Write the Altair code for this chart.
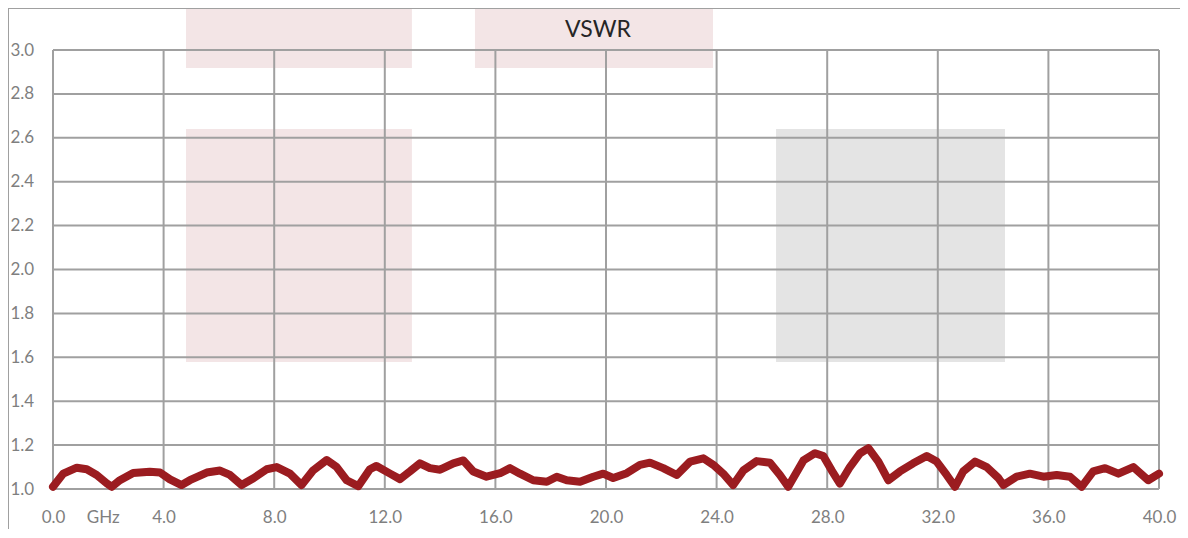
import altair as alt
import pandas as pd

# --- data ---
freq_ghz = [0.0, 0.37, 0.86, 1.22, 1.58, 1.94, 2.12, 2.42, 2.9, 3.5, 3.87, 4.23, 4.65, 4.95,
            5.56, 6.04, 6.4, 6.82, 7.25, 7.73, 8.09, 8.57, 8.99, 9.41, 9.9, 10.26, 10.62,
            11.04, 11.46, 11.7, 12.19, 12.55, 12.91, 13.27, 13.63, 14.0, 14.48, 14.84, 15.2,
            15.68, 16.17, 16.53, 16.89, 17.37, 17.86, 18.22, 18.58, 19.06, 19.54, 19.9,
            20.26, 20.75, 21.23, 21.59, 22.07, 22.56, 23.04, 23.52, 23.88, 24.24, 24.6,
            24.97, 25.45, 25.93, 26.29, 26.59, 27.14, 27.56, 27.86, 28.16, 28.46, 28.82,
            29.19, 29.49, 29.85, 30.21, 30.63, 31.11, 31.6, 31.96, 32.32, 32.62, 32.92,
            33.35, 33.77, 34.19, 34.37, 34.85, 35.33, 35.82, 36.3, 36.78, 37.2, 37.62,
            38.05, 38.53, 39.07, 39.61, 40.0]
vswr = [1.01, 1.07, 1.097, 1.09, 1.064, 1.026, 1.01, 1.04, 1.073, 1.079, 1.075, 1.044, 1.018,
        1.04, 1.075, 1.084, 1.064, 1.018, 1.049, 1.09, 1.10, 1.07, 1.018, 1.085, 1.132, 1.10,
        1.04, 1.013, 1.09, 1.105, 1.07, 1.045, 1.08, 1.117, 1.095, 1.088, 1.117, 1.13, 1.08,
        1.056, 1.072, 1.095, 1.07, 1.04, 1.033, 1.056, 1.04, 1.033, 1.056, 1.07, 1.05,
        1.072, 1.11, 1.12, 1.095, 1.064, 1.125, 1.14, 1.11, 1.07, 1.018, 1.085, 1.127,
        1.12, 1.064, 1.01, 1.13, 1.163, 1.15, 1.085, 1.025, 1.10, 1.163, 1.186, 1.125,
        1.04, 1.08, 1.117, 1.15, 1.125, 1.064, 1.01, 1.08, 1.125, 1.10, 1.05, 1.018,
        1.056, 1.07, 1.056, 1.064, 1.056, 1.01, 1.08, 1.095, 1.07, 1.10, 1.04, 1.07]

x_grid = [0, 4, 8, 12, 16, 20, 24, 28, 32, 36, 40]
y_grid = [1.0, 1.2, 1.4, 1.6, 1.8, 2.0, 2.2, 2.4, 2.6, 2.8, 3.0]
x_label_values = [0, 1.8, 4, 8, 12, 16, 20, 24, 28, 32, 36, 40]
unit_label = "GHz"
chart_title = ["VSWR"]

# decorative background boxes (data units)
box_x0 = [4.81, 26.15, 4.81, 15.26]
box_x1 = [12.98, 34.43, 12.98, 23.87]
box_y0 = [1.579, 1.579, 2.918, 2.918]
box_y1 = [2.64, 2.64, 3.25, 3.25]
box_color = ["#f3e5e6", "#e4e4e4", "#f3e5e6", "#f3e5e6"]

W, H = 1106, 439
GRID = "#a0a0a0"
LABEL = "#7f7f7f"

df = pd.DataFrame({"f": freq_ghz, "v": vswr})
boxes = pd.DataFrame({"x0": box_x0, "x1": box_x1, "y0": box_y0, "y1": box_y1, "c": box_color})
gx = pd.DataFrame({"gx": x_grid})
gy = pd.DataFrame({"gy": y_grid})
tdf = pd.DataFrame({"t": chart_title})

xs = alt.Scale(domain=[0, 40], nice=False, zero=False)
ys = alt.Scale(domain=[1.0, 3.0], nice=False, zero=False)

rects = alt.Chart(boxes).mark_rect(clip=False).encode(
    x=alt.X("x0:Q", scale=xs), x2="x1:Q",
    y=alt.Y("y0:Q", scale=ys), y2="y1:Q",
    color=alt.Color("c:N", scale=None),
)

vrules = alt.Chart(gx).mark_rule(color=GRID, strokeWidth=2).encode(
    x=alt.X("gx:Q", scale=xs)
)
hrules = alt.Chart(gy).mark_rule(color=GRID, strokeWidth=2).encode(
    y=alt.Y("gy:Q", scale=ys)
)

frame_left = alt.Chart(gx).mark_rule(color=GRID, strokeWidth=2).encode(
    x=alt.value(-45), y=alt.value(-42), y2=alt.value(H + 60)
)
frame_top = alt.Chart(gx).mark_rule(color=GRID, strokeWidth=2).encode(
    x=alt.value(-45), x2=alt.value(W + 30), y=alt.value(-42)
)

title = alt.Chart(tdf).mark_text(
    font="Lato", fontSize=23, color="#262626", align="center", baseline="middle"
).encode(text="t:N", x=alt.value(W / 2 - 8), y=alt.value(-20))

line = alt.Chart(df).mark_line(color="#9b1c20", strokeWidth=8, strokeJoin="round", strokeCap="round").encode(
    x=alt.X(
        "f:Q", scale=xs, title=None,
        axis=alt.Axis(
            values=x_label_values, grid=False, domain=False, ticks=False,
            labelExpr=f"datum.value == 1.8 ? '{unit_label}' : format(datum.value, '.1f')",
            labelFont="Lato", labelFontSize=17, labelColor=LABEL, labelPadding=20,
            labelFlush=False, labelOverlap=False,
        ),
    ),
    y=alt.Y(
        "v:Q", scale=ys, title=None,
        axis=alt.Axis(
            values=y_grid, grid=False, domain=False, ticks=False, format=".1f",
            labelFont="Lato", labelFontSize=17, labelColor=LABEL, labelAlign="left",
            labelPadding=43, labelBaseline="middle", labelFlush=False,
        ),
    ),
)

chart = alt.layer(rects, vrules, hrules, frame_left, frame_top, title, line).properties(
    width=W, height=H,
    padding={"left": 45, "top": 42, "right": 21, "bottom": 40},
    autosize=alt.AutoSizeParams(type="none"),
).configure_view(stroke=None)

chart.save("out.html", embed_options={"renderer": "svg", "actions": False})
